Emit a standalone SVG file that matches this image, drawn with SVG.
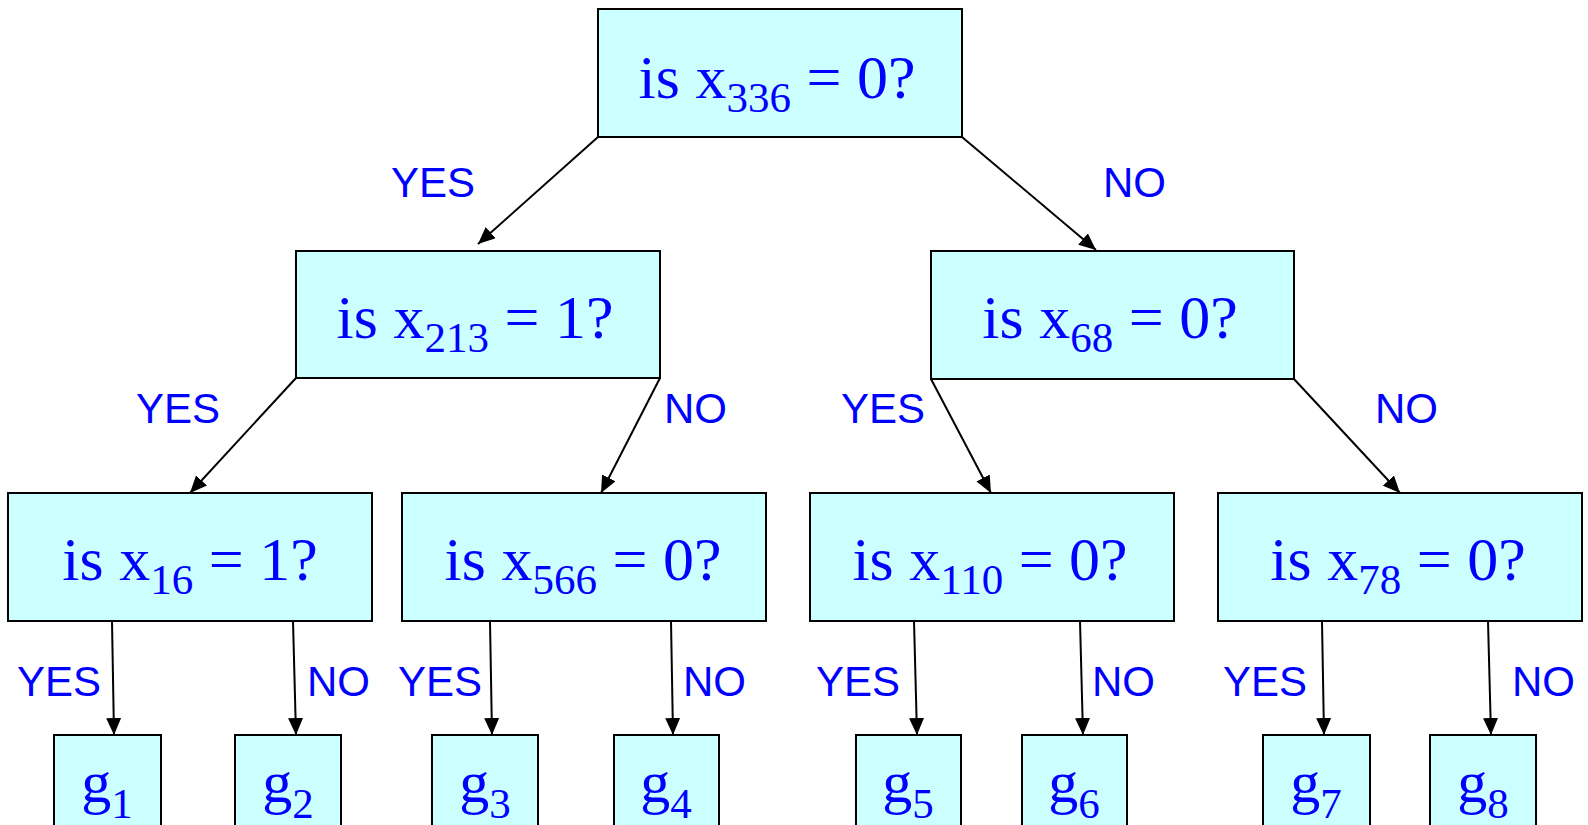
<svg xmlns="http://www.w3.org/2000/svg" width="1588" height="825" viewBox="0 0 1588 825">
<style>
.box{fill:#CCFFFF;stroke:#000;stroke-width:2}
.q{font-family:"Liberation Serif","Times New Roman",serif;font-size:62px;fill:#0000FF;text-anchor:middle}
.g{font-size:60px}
.sub{font-size:43px}
.lbl{font-family:"Liberation Sans",Arial,sans-serif;font-size:42px;fill:#0000FF}
.edge{stroke:#000;stroke-width:2;fill:none;marker-end:url(#ah)}
</style>
<defs>
<marker id="ah" markerUnits="userSpaceOnUse" markerWidth="17" markerHeight="15" viewBox="0 0 17 15" refX="17" refY="7.5" orient="auto">
<path d="M0,0 L17,7.5 L0,15 Z" fill="#000"/>
</marker>
</defs>
<rect width="1588" height="825" fill="#fff"/>
<g id="connectors">
<line class="edge" x1="598" y1="137" x2="478" y2="244"/>
<line class="edge" x1="962" y1="137" x2="1096" y2="250"/>
<line class="edge" x1="296" y1="378" x2="190" y2="493"/>
<line class="edge" x1="660" y1="378" x2="601" y2="493"/>
<line class="edge" x1="931" y1="379" x2="991" y2="493"/>
<line class="edge" x1="1294" y1="379" x2="1400" y2="493"/>
<line class="edge" x1="112" y1="621" x2="114" y2="735"/>
<line class="edge" x1="293" y1="621" x2="296" y2="735"/>
<line class="edge" x1="490" y1="621" x2="492" y2="735"/>
<line class="edge" x1="671" y1="621" x2="673" y2="735"/>
<line class="edge" x1="914" y1="621" x2="917" y2="735"/>
<line class="edge" x1="1080" y1="621" x2="1083" y2="735"/>
<line class="edge" x1="1322" y1="621" x2="1324" y2="735"/>
<line class="edge" x1="1488" y1="621" x2="1491" y2="735"/>
</g>
<g id="labels">
<text class="lbl" x="391" y="197">YES</text>
<text class="lbl" x="1103" y="197">NO</text>
<text class="lbl" x="136" y="423">YES</text>
<text class="lbl" x="664" y="423">NO</text>
<text class="lbl" x="841" y="423">YES</text>
<text class="lbl" x="1375" y="423">NO</text>
<text class="lbl" x="17" y="696">YES</text>
<text class="lbl" x="307" y="696">NO</text>
<text class="lbl" x="398" y="696">YES</text>
<text class="lbl" x="683" y="696">NO</text>
<text class="lbl" x="816" y="696">YES</text>
<text class="lbl" x="1092" y="696">NO</text>
<text class="lbl" x="1223" y="696">YES</text>
<text class="lbl" x="1512" y="696">NO</text>
</g>
<g id="n336">
<rect class="box" x="598" y="9" width="364" height="128"/>
<text class="q" x="777" y="98">is x<tspan class="sub" dy="14">336</tspan><tspan dy="-14"> = 0?</tspan></text>
</g>
<g id="n213">
<rect class="box" x="296" y="251" width="364" height="127"/>
<text class="q" x="475" y="338">is x<tspan class="sub" dy="14">213</tspan><tspan dy="-14"> = 1?</tspan></text>
</g>
<g id="n68">
<rect class="box" x="931" y="251" width="363" height="128"/>
<text class="q" x="1110" y="338">is x<tspan class="sub" dy="14">68</tspan><tspan dy="-14"> = 0?</tspan></text>
</g>
<g id="n16">
<rect class="box" x="8" y="493" width="364" height="128"/>
<text class="q" x="190" y="580">is x<tspan class="sub" dy="14">16</tspan><tspan dy="-14"> = 1?</tspan></text>
</g>
<g id="n566">
<rect class="box" x="402" y="493" width="364" height="128"/>
<text class="q" x="583" y="580">is x<tspan class="sub" dy="14">566</tspan><tspan dy="-14"> = 0?</tspan></text>
</g>
<g id="n110">
<rect class="box" x="810" y="493" width="364" height="128"/>
<text class="q" x="990" y="580">is x<tspan class="sub" dy="14">110</tspan><tspan dy="-14"> = 0?</tspan></text>
</g>
<g id="n78">
<rect class="box" x="1218" y="493" width="364" height="128"/>
<text class="q" x="1398" y="580">is x<tspan class="sub" dy="14">78</tspan><tspan dy="-14"> = 0?</tspan></text>
</g>
<g id="g1"><rect class="box" x="54" y="735" width="107" height="110"/><text class="q g" x="107" y="802">g<tspan class="sub" dy="16">1</tspan></text></g>
<g id="g2"><rect class="box" x="235" y="735" width="106" height="110"/><text class="q g" x="288" y="802">g<tspan class="sub" dy="16">2</tspan></text></g>
<g id="g3"><rect class="box" x="432" y="735" width="106" height="110"/><text class="q g" x="485" y="802">g<tspan class="sub" dy="16">3</tspan></text></g>
<g id="g4"><rect class="box" x="614" y="735" width="105" height="110"/><text class="q g" x="666" y="802">g<tspan class="sub" dy="16">4</tspan></text></g>
<g id="g5"><rect class="box" x="856" y="735" width="105" height="110"/><text class="q g" x="908" y="802">g<tspan class="sub" dy="16">5</tspan></text></g>
<g id="g6"><rect class="box" x="1022" y="735" width="105" height="110"/><text class="q g" x="1074" y="802">g<tspan class="sub" dy="16">6</tspan></text></g>
<g id="g7"><rect class="box" x="1263" y="735" width="107" height="110"/><text class="q g" x="1316" y="802">g<tspan class="sub" dy="16">7</tspan></text></g>
<g id="g8"><rect class="box" x="1430" y="735" width="106" height="110"/><text class="q g" x="1483" y="802">g<tspan class="sub" dy="16">8</tspan></text></g>
</svg>
